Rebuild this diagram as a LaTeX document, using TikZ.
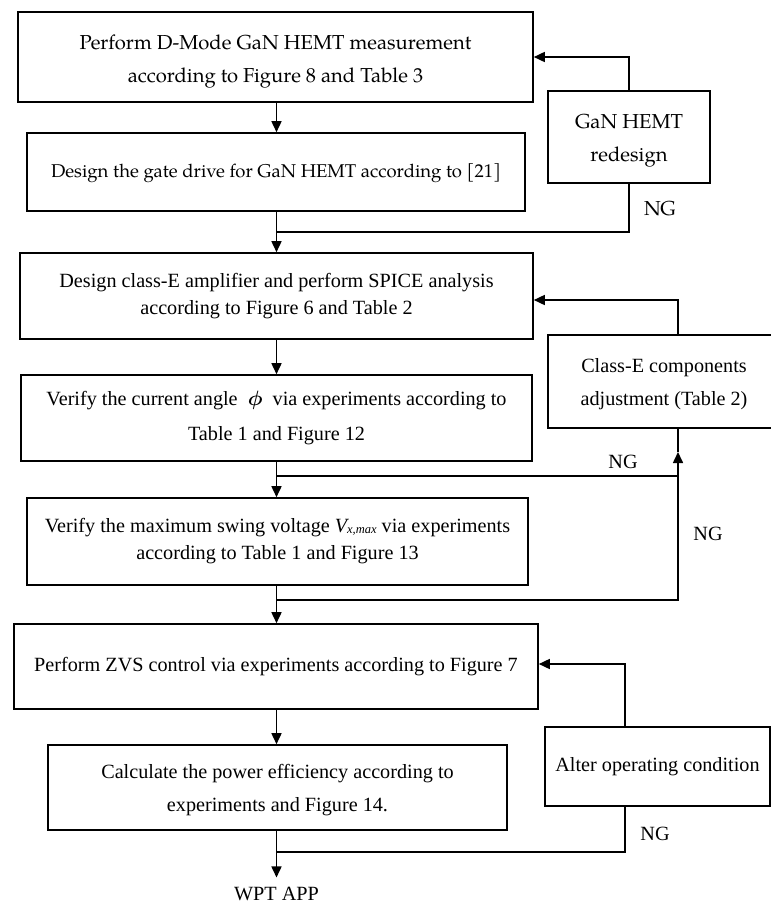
\documentclass[tikz,border=0pt]{standalone}
\usepackage{amsmath}
\usepackage{fontspec}
\setmainfont{Liberation Serif}
\newfontfamily\palfont{TeX Gyre Pagella}
\usetikzlibrary{arrows.meta,calc}
\newcommand{\tstrut}[1]{\rule{0pt}{#1}}
\begin{document}
\begin{tikzpicture}[x=1pt,y=-1pt,
  box/.style={draw, line width=1.6pt, inner sep=0pt, align=center},
  tms/.style={font=\fontsize{20.2}{33}\selectfont},
  pal/.style={font=\palfont\fontsize{20.2}{33}\selectfont},
  arr/.style={line width=1.6pt, -{Triangle[length=11pt,width=10pt]}},
  ln/.style={line width=1.6pt},
  lbl/.style={inner sep=0pt}]
\useasboundingbox (0,0) rectangle (771,905);
\coordinate (sp) at (276.5,0);

% main boxes
\node[box,pal,minimum width=515pt,minimum height=90pt] (b1) at (275.5,57)
  {\tstrut{23pt}Perform D-Mode GaN HEMT measurement\\according to Figure 8 and Table 3};
\node[box,font=\palfont\fontsize{18.5}{33}\selectfont,minimum width=498pt,minimum height=78pt] (b2) at (276,172)
  {\tstrut{16pt}Design the gate drive for GaN HEMT according to [21]};
\node[box,font=\fontsize{20.2}{27}\selectfont,minimum width=513pt,minimum height=86pt] (b3) at (276.5,296)
  {Design class-E amplifier and perform SPICE analysis\\according to Figure 6 and Table 2};
\node[box,font=\fontsize{20.2}{35}\selectfont,minimum width=511pt,minimum height=86pt] (b4) at (276.5,418)
  {Verify the current angle\ \ $\boldsymbol{\phi}$\ \ via experiments according to\\Table 1 and Figure 12};
\node[box,font=\fontsize{20.2}{27}\selectfont,minimum width=501pt,minimum height=87pt] (b5) at (277.5,541.5)
  {Verify the maximum swing voltage {\itshape V\raisebox{-1pt}{\fontsize{12.5}{12.5}\selectfont x,max}} via experiments\\according to Table 1 and Figure 13};
\node[box,tms,minimum width=524pt,minimum height=85pt] (b6) at (276,666.5)
  {Perform ZVS control via experiments according to Figure 7};
\node[box,tms,minimum width=459pt,minimum height=85pt] (b7) at (277.5,787.5)
  {\tstrut{20pt}Calculate the power efficiency according to\\experiments and Figure 14.};
\node[lbl,tms,anchor=base] (wpt) at (276.5,900) {WPT APP};

% side boxes
\node[box,pal,minimum width=162pt,minimum height=92pt] (r1) at (629,137)
  {\tstrut{22pt}GaN HEMT\\redesign};
\node[box,tms,minimum width=232pt,minimum height=93pt] (r2) at (664,381.5)
  {\tstrut{20pt}Class-E components\\adjustment (Table 2)};
\node[box,tms,minimum width=225pt,minimum height=79pt] (r3) at (657.5,766.5)
  {Alter operating condition};

% NG labels
\node[lbl,pal] (ng1) at (660,209) {NG};
\node[lbl,tms] (ng2) at (623,462) {NG};
\node[lbl,tms] (ng3) at (708,534) {NG};
\node[lbl,tms] (ng4) at (655,834) {NG};

% helper coordinates
\path (b2.south) ++(0,20) coordinate (m1);
\path (b4.south) ++(0,14) coordinate (m2);
\path (b5.south) ++(0,14) coordinate (m3);
\path (b7.south) ++(0,21) coordinate (m4);
\coordinate (f2) at (678,300);
\coordinate (tip2) at (678,452);
\coordinate (f3) at (625,664);

% main flow
\draw[arr] (b1.south -| sp) -- (b2.north -| sp);
\draw[arr] (b2.south -| sp) -- (b3.north -| sp);
\draw[arr] (b3.south -| sp) -- (b4.north -| sp);
\draw[arr] (b4.south -| sp) -- (b5.north -| sp);
\draw[arr] (b5.south -| sp) -- (b6.north -| sp);
\draw[arr] (b6.south -| sp) -- (b7.north -| sp);
\draw[arr,shorten >=9pt] (b7.south -| sp) -- (wpt.north -| sp);

% loop 1
\draw[arr] (r1.north) |- (b1.east);
\draw[ln] (r1.south) |- (m1 -| sp);

% loop 2
\draw[arr] (r2.north -| f2) |- (b3.east |- f2);
\draw[ln] (m2 -| sp) -- (m2 -| f2);
\draw[arr] (m3 -| sp) -| (tip2);
\draw[ln] (tip2) -- (r2.south -| f2);

% loop 3
\draw[arr] (r3.north -| f3) |- (b6.east |- f3);
\draw[ln] (r3.south -| f3) |- (m4 -| sp);
\end{tikzpicture}
\end{document}
